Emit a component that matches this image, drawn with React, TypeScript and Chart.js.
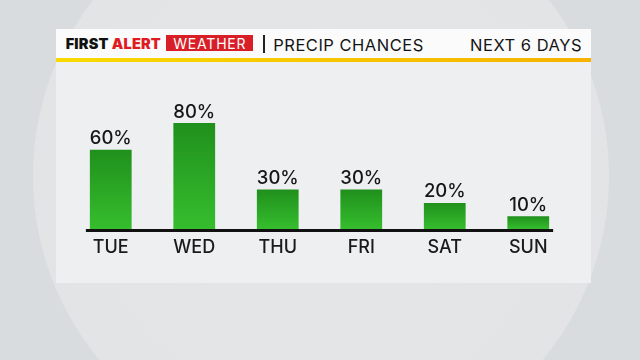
import React, { useEffect, useRef } from "react";
import { Chart, registerables } from "chart.js";

Chart.register(...registerables);

const days = ["TUE", "WED", "THU", "FRI", "SAT", "SUN"];
const precipChances = [60, 80, 30, 30, 20, 10];
const yMin = 0;
const yMax = 100;

const FONT = "Inter, 'Noto Sans', sans-serif";

const barLabelPlugin = {
  id: "barLabels",
  afterDatasetsDraw(chart: any) {
    const { ctx } = chart;
    const meta = chart.getDatasetMeta(0);
    const ys = chart.scales.y;
    const y0 = ys.getPixelForValue(0);
    ctx.save();
    const first = meta.data[0];
    const last = meta.data[meta.data.length - 1];
    const xStart = first.x - first.width / 2 - 4;
    const xEnd = last.x + last.width / 2 + 4;
    ctx.fillStyle = "#111111";
    ctx.fillRect(xStart, y0 - 0.5, xEnd - xStart, 3);
    ctx.fillStyle = "#161616";
    ctx.font = `500 18.5px ${FONT}`;
    ctx.textAlign = "center";
    ctx.textBaseline = "alphabetic";
    meta.data.forEach((bar: any, i: number) => {
      ctx.fillText(`${precipChances[i]}%`, bar.x, bar.y - 5.5);
    });
    ctx.restore();
  },
};

export default function App() {
  const ref = useRef<HTMLCanvasElement>(null);
  useEffect(() => {
    if (!ref.current) return;
    const chart = new Chart(ref.current, {
      type: "bar",
      data: {
        labels: days,
        datasets: [
          {
            data: precipChances,
            barPercentage: 0.5,
            categoryPercentage: 1,
            borderWidth: 0,
            backgroundColor: (c: any) => {
              const ch = c.chart;
              const ys = ch.scales?.y;
              if (!ys || c.raw == null) return "#2aa825";
              const top = ys.getPixelForValue(c.raw);
              const bottom = ys.getPixelForValue(0);
              if (!isFinite(top) || !isFinite(bottom) || top === bottom) return "#2aa825";
              const g = ch.ctx.createLinearGradient(0, top, 0, bottom);
              g.addColorStop(0, "#20901c");
              g.addColorStop(1, "#36be2e");
              return g;
            },
          },
        ],
      },
      options: {
        responsive: false,
        animation: false,
        layout: { padding: { left: 69, right: 70, top: 96.5, bottom: 90.5 } },
        plugins: { legend: { display: false }, tooltip: { enabled: false } },
        scales: {
          x: {
            grid: { display: false, drawTicks: false },
            border: { display: false },
            ticks: {
              color: "#1a1a1a",
              font: { family: FONT, size: 18, weight: "500" },
              padding: 7,
            },
            afterFit: (s: any) => {
              s.height = 40;
            },
          },
          y: { display: false, min: yMin, max: yMax },
        },
      },
      plugins: [barLabelPlugin],
    });
    return () => chart.destroy();
  }, []);

  return (
    <div
      style={{
        position: "fixed",
        left: 0,
        top: 0,
        width: 640,
        height: 360,
        overflow: "hidden",
        background: "#d9dcde",
        fontFamily: FONT,
      }}
    >
      <div
        style={{
          position: "absolute",
          left: 33,
          top: -112,
          width: 576,
          height: 576,
          borderRadius: "50%",
          background:
            "radial-gradient(circle at 50% 50%, #e4e6e7 0%, #e1e3e4 89%, #cbcccd 93.5%, #c3c4c5 97.5%, #d2d4d5 100%)",
        }}
      />
      <div
        style={{
          position: "absolute",
          left: 56,
          top: 29,
          width: 535,
          height: 254,
          background: "#edeff0",
        }}
      >
        <div
          style={{
            position: "absolute",
            left: 0,
            top: 0,
            width: 535,
            height: 29,
            background: "#fbfbfb",
          }}
        >
          <div
            style={{
              position: "absolute",
              left: 9.7,
              top: 7.6,
              fontSize: 14.5,
              lineHeight: "14.5px",
              fontWeight: 900,
              color: "#111",
              whiteSpace: "nowrap",
              letterSpacing: 0.2,
            }}
          >
            FIRST <span style={{ color: "#e01b22" }}>ALERT</span>
          </div>
          <div
            style={{
              position: "absolute",
              left: 110.3,
              top: 6,
              width: 87,
              height: 16,
              background: "#d81f27",
              color: "#fff",
              fontSize: 14,
              lineHeight: "17px",
              textAlign: "center",
              letterSpacing: 0.8,
              whiteSpace: "nowrap",
            }}
          >
            WEATHER
          </div>
          <div
            style={{
              position: "absolute",
              left: 207.3,
              top: 6,
              width: 2,
              height: 17.7,
              background: "#222",
            }}
          />
          <div
            style={{
              position: "absolute",
              left: 217.3,
              top: 7.7,
              fontSize: 16.5,
              lineHeight: "16.5px",
              color: "#141414",
              letterSpacing: 0.5,
              whiteSpace: "nowrap",
            }}
          >
            PRECIP CHANCES
          </div>
          <div
            style={{
              position: "absolute",
              right: 9,
              top: 7.7,
              fontSize: 16.5,
              lineHeight: "16.5px",
              color: "#141414",
              letterSpacing: 0.5,
              whiteSpace: "nowrap",
            }}
          >
            NEXT 6 DAYS
          </div>
        </div>
        <div
          style={{
            position: "absolute",
            left: 0,
            top: 29,
            width: 535,
            height: 3.5,
            background: "linear-gradient(to right, #f9da00, #f6b200)",
          }}
        />
      </div>
      <canvas
        ref={ref}
        width={640}
        height={360}
        style={{ position: "absolute", left: 0, top: 0, width: 640, height: 360 }}
      />
    </div>
  );
}
